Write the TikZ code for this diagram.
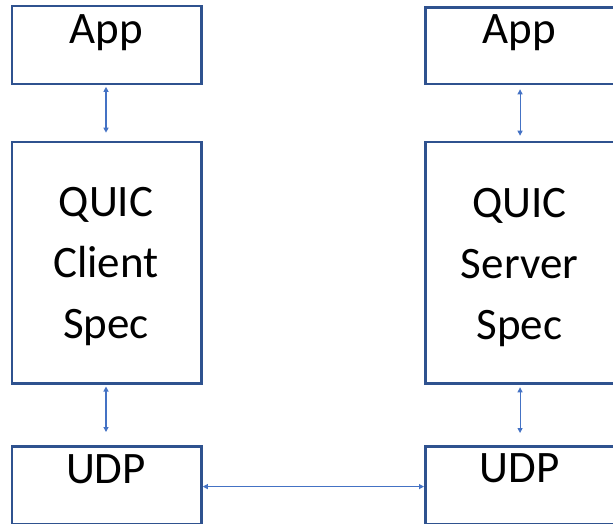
\documentclass[tikz,border=0pt]{standalone}
\usepackage{fontspec}
\setmainfont{Carlito}
\usetikzlibrary{arrows.meta}
\definecolor{boxline}{HTML}{2F528F}
\definecolor{linkline}{HTML}{4472C4}
\tikzset{
  layerbox/.style={draw=boxline, line width=2.6pt, rectangle, inner sep=0pt,
    minimum width=189.5pt},
  layertext/.style={font=\fontsize{45}{61}\selectfont, align=center, inner sep=0pt, anchor=base},
  link/.style={draw=linkline, line width=1.1pt,
    {Triangle[length=5pt,width=5pt]}-{Triangle[length=5pt,width=5pt]}}
}
\begin{document}
\begin{tikzpicture}[x=1pt, y=-1pt]
  \useasboundingbox (0,0) rectangle (613,523);
  \clip (0,0) rectangle (613,523);
  % client stack
  \node[layerbox, minimum height=78pt]    (appL)  at (106.75,45)    {};
  \node[layerbox, minimum height=241.7pt] (quicL) at (106.75,262.85) {};
  \node[layerbox, minimum height=78pt]    (udpL)  at (106.75,485.3)  {};
  % server stack
  \node[layerbox, minimum height=76.8pt]  (appR)  at (520.05,45.6)   {};
  \node[layerbox, minimum height=241.5pt] (quicR) at (520.05,262.75) {};
  \node[layerbox, minimum height=78pt]    (udpR)  at (520.05,485.3)  {};
  % labels (multi-line labels are anchored at the baseline of their last line)
  \node[layertext] at (106,43)  {App};
  \node[layertext] at (106,338) {QUIC\\Client\\Spec};
  \node[layertext] at (106,483) {UDP};
  \node[layertext] at (519.5,43)  {App};
  \node[layertext] at (519.5,339) {QUIC\\Server\\Spec};
  \node[layertext] at (519.5,482) {UDP};
  % links between layers
  \draw[link] ([xshift=-0.75pt, yshift=-1.5pt]appL.south) -- ([xshift=-0.75pt, yshift=8pt]quicL.north);
  \draw[link] ([xshift=-0.75pt, yshift=-1.5pt]quicL.south) -- ([xshift=-0.75pt, yshift=13pt]udpL.north);
  \draw[link] ([yshift=-4pt]appR.south) -- ([yshift=5pt]quicR.north);
  \draw[link] ([yshift=-2.5pt]quicR.south) -- ([yshift=12pt]udpR.north);
  \draw[link] ([yshift=-1.3pt]udpL.east) -- ([yshift=-1.3pt]udpR.west);
\end{tikzpicture}
\end{document}
